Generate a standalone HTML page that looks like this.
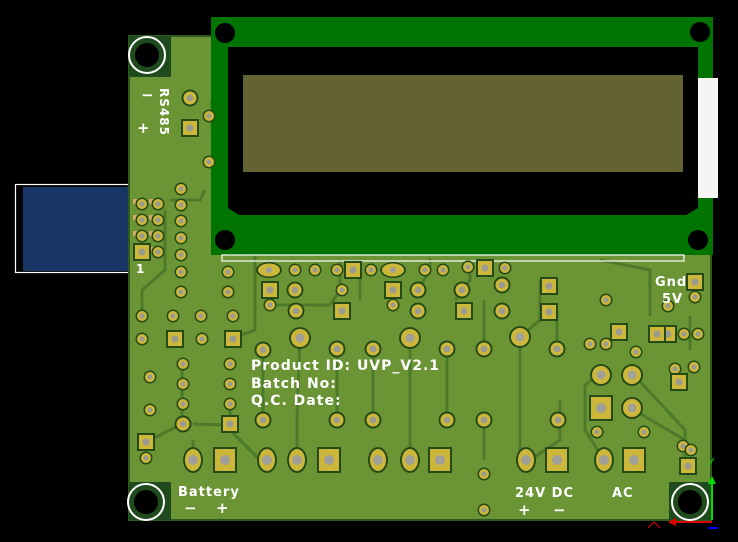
<!DOCTYPE html>
<html><head><meta charset="utf-8"><style>
html,body{margin:0;padding:0;background:#000;}
svg{display:block}
text{font-family:"DejaVu Sans","Liberation Sans",sans-serif;font-weight:bold;fill:#fff;letter-spacing:1px}
</style></head><body>
<svg width="738" height="542" viewBox="0 0 738 542" xmlns="http://www.w3.org/2000/svg">
<defs>
<g id="rp"><circle r="8.5" fill="#244a18"/><circle r="6.5" fill="#cdb73a"/><circle r="3.3" fill="#9a9a90"/></g>
<g id="rs"><circle r="6.5" fill="#244a18"/><circle r="5" fill="#cdb73a"/><circle r="2.5" fill="#9a9a90"/></g>
<g id="rl"><circle r="11" fill="#244a18"/><circle r="9" fill="#cdb73a"/><circle r="4.5" fill="#a0a098"/></g>
<g id="sp"><rect x="-9" y="-9" width="18" height="18" fill="#244a18"/><rect x="-7" y="-7" width="14" height="14" fill="#cdb73a"/><circle r="3.5" fill="#9a9a90"/></g>
<g id="sl"><rect x="-12" y="-13" width="24" height="26" fill="#244a18"/><rect x="-10" y="-11" width="20" height="22" fill="#cdb73a"/><circle r="5" fill="#a0a098"/></g>
<g id="ov"><ellipse rx="10" ry="13" fill="#244a18"/><ellipse rx="8" ry="11" fill="#cdb73a"/><circle r="5" fill="#a0a098"/></g>
<g id="oh"><ellipse rx="13" ry="8" fill="#244a18"/><ellipse rx="11" ry="6.5" fill="#cdb73a"/><circle r="3" fill="#a0a098"/></g>
</defs>
<rect width="738" height="542" fill="#000"/>
<rect x="15.5" y="184.5" width="113" height="88" fill="none" stroke="#fff" stroke-width="1.2"/>
<rect x="23" y="187" width="106" height="84" fill="#173665"/>
<rect x="129" y="36" width="582" height="484" fill="#6b9535" stroke="#2f5a1f" stroke-width="2"/>
<rect x="129" y="36" width="42" height="41" fill="#1f4a1e"/>
<rect x="129" y="482" width="42" height="38" fill="#1f4a1e"/>
<rect x="669" y="482" width="42" height="38" fill="#1f4a1e"/>
<g fill="none" stroke="#4d7a2a" stroke-width="3">
<path d="M263 418 V350 M297 460 V418 L300 337 M337 418 V349 M373 418 V349 M410 460 V337 M447 418 V349 M484 460 V418 M484 349 V300 M520 460 V337 L540 320 V280 M557 349 V312"/>
<path d="M182 364 V424 M230 404 V424 M182 424 L150 440 M193 424 L225 425 L260 460 M193 460 L193 440"/>
<path d="M142 316 L142 290 L165 270 V210 M233 338 L255 330 V250 M270 305 L330 305 L340 290 V260"/>
<path d="M598 375 L585 385 V430 L604 460 M634 375 L685 430 V466 M634 410 L685 440 M455 300 L470 280 V260 M560 400 L560 440 L530 460"/>
<path d="M360 300 L360 270 M418 290 L430 270 V258 M690 316 V350 M650 316 L650 270 L600 260"/>
<path d="M170 200 L200 200 L205 190 M210 103 L228 103 M212 100 L212 130"/>
</g>
<rect x="211" y="17" width="502" height="238" fill="#007400"/>
<rect x="698" y="78" width="20" height="120" fill="#f5f5f5"/>
<rect x="222" y="255" width="462" height="6" fill="none" stroke="#fff" stroke-width="1.2"/>
<path d="M228 47 H698 V208 L686 215 H239 L228 208 Z" fill="#000"/>
<rect x="243" y="75" width="440" height="97" fill="#626232"/>
<circle cx="225" cy="33" r="10" fill="#000"/>
<circle cx="700" cy="32" r="10" fill="#000"/>
<circle cx="225" cy="240" r="10" fill="#000"/>
<circle cx="698" cy="240" r="10" fill="#000"/>
<g>
<circle cx="147" cy="55" r="18" fill="none" stroke="#fff" stroke-width="2"/><circle cx="147" cy="55" r="14" fill="#1f4a1e"/><circle cx="147" cy="55" r="12" fill="#000"/>
<circle cx="146" cy="502" r="18" fill="none" stroke="#fff" stroke-width="2"/><circle cx="146" cy="502" r="14" fill="#1f4a1e"/><circle cx="146" cy="502" r="12" fill="#000"/>
<circle cx="690" cy="502" r="18" fill="none" stroke="#fff" stroke-width="2"/><circle cx="690" cy="502" r="14" fill="#1f4a1e"/><circle cx="690" cy="502" r="12" fill="#000"/>
</g>
<use href="#rp" x="190" y="98"/><use href="#sp" x="190" y="128"/>
<use href="#rs" x="209" y="116"/><use href="#rs" x="209" y="162"/>
<use href="#rs" x="181" y="189"/>
<g fill="#d8a868"><rect x="133" y="199" width="14" height="5"/><rect x="133" y="215" width="14" height="5"/><rect x="133" y="231" width="14" height="5"/><rect x="133" y="247" width="14" height="5"/><rect x="149" y="199" width="14" height="5"/><rect x="149" y="215" width="14" height="5"/><rect x="149" y="231" width="14" height="5"/><rect x="149" y="247" width="14" height="5"/></g>
<use href="#rs" x="142" y="204"/><use href="#rs" x="158" y="204"/>
<use href="#rs" x="142" y="220"/><use href="#rs" x="158" y="220"/>
<use href="#rs" x="142" y="236"/><use href="#rs" x="158" y="236"/>
<use href="#sp" x="142" y="252"/><use href="#rs" x="158" y="252"/>
<use href="#rs" x="181" y="205"/><use href="#rs" x="181" y="221"/><use href="#rs" x="181" y="238"/><use href="#rs" x="181" y="255"/><use href="#rs" x="181" y="272"/><use href="#rs" x="181" y="292"/>
<use href="#rs" x="228" y="272"/><use href="#rs" x="228" y="292"/>
<use href="#rs" x="142" y="316"/><use href="#rs" x="173" y="316"/><use href="#rs" x="201" y="316"/><use href="#rs" x="233" y="316"/>
<use href="#rs" x="142" y="339"/><use href="#sp" x="175" y="339"/><use href="#rs" x="202" y="339"/><use href="#sp" x="233" y="339"/>
<use href="#rs" x="183" y="364"/><use href="#rs" x="183" y="384"/><use href="#rs" x="183" y="404"/><use href="#rp" x="183" y="424"/>
<use href="#rs" x="230" y="364"/><use href="#rs" x="230" y="384"/><use href="#rs" x="230" y="404"/><use href="#sp" x="230" y="424"/>
<use href="#rs" x="150" y="377"/><use href="#rs" x="150" y="410"/>
<use href="#sp" x="146" y="442"/><use href="#rs" x="146" y="458"/>
<use href="#oh" x="269" y="270"/><use href="#rs" x="295" y="270"/><use href="#rs" x="315" y="270"/><use href="#rs" x="337" y="270"/><use href="#sp" x="353" y="270"/><use href="#rs" x="371" y="270"/><use href="#oh" x="393" y="270"/><use href="#rs" x="425" y="270"/><use href="#rs" x="443" y="270"/>
<use href="#rs" x="468" y="267"/><use href="#sp" x="485" y="268"/><use href="#rs" x="505" y="268"/>
<use href="#sp" x="270" y="290"/><use href="#rp" x="295" y="290"/><use href="#rs" x="342" y="290"/><use href="#sp" x="393" y="290"/><use href="#rp" x="418" y="290"/>
<use href="#rs" x="270" y="305"/><use href="#rp" x="296" y="311"/><use href="#sp" x="342" y="311"/><use href="#rs" x="393" y="305"/><use href="#rp" x="418" y="311"/>
<use href="#rp" x="462" y="290"/><use href="#sp" x="549" y="286"/><use href="#rp" x="502" y="285"/>
<use href="#sp" x="464" y="311"/><use href="#rp" x="502" y="311"/><use href="#sp" x="549" y="312"/>
<use href="#rp" x="263" y="350"/><use href="#rl" x="300" y="338"/><use href="#rp" x="337" y="349"/><use href="#rp" x="373" y="349"/><use href="#rl" x="410" y="338"/><use href="#rp" x="447" y="349"/><use href="#rp" x="484" y="349"/><use href="#rl" x="520" y="337"/><use href="#rp" x="557" y="349"/>
<use href="#rp" x="263" y="420"/><use href="#rp" x="337" y="420"/><use href="#rp" x="373" y="420"/><use href="#rp" x="447" y="420"/><use href="#rp" x="484" y="420"/><use href="#rp" x="558" y="420"/>
<use href="#rs" x="484" y="474"/><use href="#rs" x="484" y="510"/>
<use href="#ov" x="193" y="460"/><use href="#sl" x="225" y="460"/>
<use href="#ov" x="267" y="460"/><use href="#ov" x="297" y="460"/><use href="#sl" x="329" y="460"/><use href="#ov" x="378" y="460"/><use href="#ov" x="410" y="460"/><use href="#sl" x="440" y="460"/>
<use href="#ov" x="526" y="460"/><use href="#sl" x="557" y="460"/>
<use href="#ov" x="604" y="460"/><use href="#sl" x="634" y="460"/>
<use href="#rs" x="606" y="300"/><use href="#rs" x="606" y="344"/><use href="#rs" x="590" y="344"/>
<use href="#rs" x="668" y="306"/><use href="#sp" x="695" y="282"/><use href="#rs" x="695" y="297"/>
<use href="#sp" x="619" y="332"/><use href="#rs" x="636" y="352"/>
<use href="#sp" x="668" y="334"/><use href="#rs" x="684" y="334"/><use href="#sp" x="657" y="334"/><use href="#rs" x="698" y="334"/>
<use href="#rs" x="694" y="367"/><use href="#rs" x="675" y="369"/>
<use href="#rl" x="601" y="375"/><use href="#rl" x="632" y="375"/>
<use href="#sl" x="601" y="408"/><use href="#rl" x="632" y="408"/>
<use href="#rs" x="597" y="432"/><use href="#rs" x="644" y="432"/>
<use href="#sp" x="679" y="382"/><use href="#rs" x="683" y="446"/><use href="#sp" x="688" y="466"/><use href="#rs" x="691" y="450"/>
<text x="141" y="100" font-size="15">−</text>
<text x="137" y="133" font-size="15">+</text>
<text transform="translate(160,88) rotate(90)" font-size="12">RS485</text>
<text x="136" y="273" font-size="12">1</text>
<text x="251" y="370" font-size="14">Product ID: UVP_V2.1</text>
<text x="251" y="388" font-size="14">Batch No:</text>
<text x="251" y="405" font-size="14">Q.C. Date:</text>
<text x="178" y="496" font-size="13">Battery</text>
<text x="184" y="513" font-size="15">−</text>
<text x="216" y="513" font-size="15">+</text>
<text x="515" y="497" font-size="13">24V DC</text>
<text x="518" y="515" font-size="15">+</text>
<text x="553" y="515" font-size="15">−</text>
<text x="612" y="497" font-size="13">AC</text>
<text x="655" y="286" font-size="13">Gnd</text>
<text x="662" y="303" font-size="13">5V</text>
<line x1="712" y1="520" x2="712" y2="480" stroke="#00e000" stroke-width="2"/>
<path d="M708 484 L712 476 L716 484 Z" fill="#00e000"/>
<line x1="712" y1="522" x2="672" y2="522" stroke="#e00000" stroke-width="2"/>
<path d="M676 518 L668 522 L676 526 Z" fill="#e00000"/>
<path d="M648 528 L654 522 L660 528" stroke="#e00000" fill="none"/>
<path d="M709 465 L714 458" stroke="#00e000" fill="none"/>
<path d="M708 528 H718" stroke="#0000ff" stroke-width="2"/>
</svg>
</body></html>
